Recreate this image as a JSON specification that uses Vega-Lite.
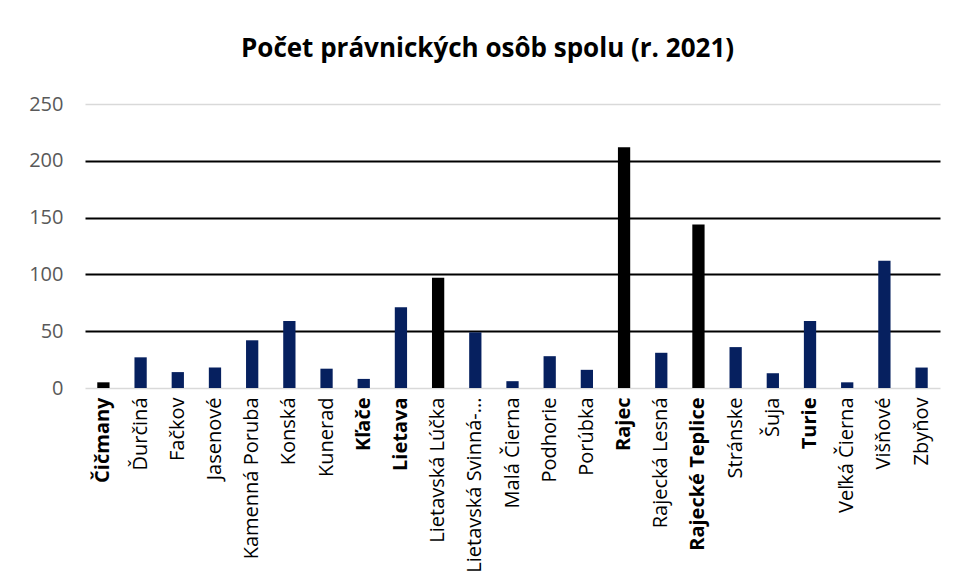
{
  "$schema": "https://vega.github.io/schema/vega-lite/v6.json",
  "autosize": {"type": "none"},
  "padding": {"left": 85, "top": 104, "right": 15, "bottom": 193},
  "width": 855,
  "height": 284,
  "background": "white",
  "title": {
    "text": "Počet právnických osôb spolu (r. 2021)",
    "font": "Open Sans",
    "fontSize": 26,
    "fontWeight": "bold",
    "color": "black",
    "anchor": "middle",
    "dx": -25,
    "offset": 32
  },
  "data": {
    "values": [
      {"obec": "Čičmany", "pocet": 5},
      {"obec": "Ďurčiná", "pocet": 27},
      {"obec": "Fačkov", "pocet": 14},
      {"obec": "Jasenové", "pocet": 18},
      {"obec": "Kamenná Poruba", "pocet": 42},
      {"obec": "Konská", "pocet": 59},
      {"obec": "Kunerad", "pocet": 17},
      {"obec": "Kľače", "pocet": 8},
      {"obec": "Lietava", "pocet": 71},
      {"obec": "Lietavská Lúčka", "pocet": 97},
      {"obec": "Lietavská Svinná-Babkov", "pocet": 49},
      {"obec": "Malá Čierna", "pocet": 6},
      {"obec": "Podhorie", "pocet": 28},
      {"obec": "Porúbka", "pocet": 16},
      {"obec": "Rajec", "pocet": 212},
      {"obec": "Rajecká Lesná", "pocet": 31},
      {"obec": "Rajecké Teplice", "pocet": 144},
      {"obec": "Stránske", "pocet": 36},
      {"obec": "Šuja", "pocet": 13},
      {"obec": "Turie", "pocet": 59},
      {"obec": "Veľká Čierna", "pocet": 5},
      {"obec": "Višňové", "pocet": 112},
      {"obec": "Zbyňov", "pocet": 18}
    ]
  },
  "mark": {"type": "bar"},
  "encoding": {
    "x": {
      "field": "obec",
      "type": "nominal",
      "sort": null,
      "scale": {"paddingInner": 0.67, "paddingOuter": 0.33},
      "axis": {
        "title": null,
        "labelAngle": -90,
        "labelAlign": "right",
        "labelBaseline": "middle",
        "labelFont": "Open Sans",
        "labelFontSize": 20,
        "labelColor": "black",
        "labelPadding": 9,
        "labelLimit": 300,
        "labelFontWeight": {"condition": {"test": "indexof(['Čičmany', 'Kľače', 'Lietava', 'Rajec', 'Rajecké Teplice', 'Turie'], datum.value) >= 0", "value": "bold"}, "value": "normal"},
        "labelExpr": "datum.value == 'Lietavská Svinná-Babkov' ? 'Lietavská Svinná-...' : datum.value",
        "ticks": false,
        "domain": false
      }
    },
    "y": {
      "field": "pocet",
      "type": "quantitative",
      "scale": {"domain": [0, 250]},
      "axis": {
        "title": null,
        "values": [0, 50, 100, 150, 200, 250],
        "labelFont": "Open Sans",
        "labelFontSize": 20,
        "labelColor": "#595959",
        "labelPadding": 22,
        "ticks": false,
        "domain": false,
        "grid": true,
        "gridColor": {"condition": {"test": "datum.value > 0 && datum.value < 250", "value": "black"}, "value": "#d9d9d9"},
        "gridWidth": {"condition": {"test": "datum.value > 0 && datum.value < 250", "value": 2}, "value": 1.5}
      }
    },
    "color": {
      "condition": {
        "test": "indexof(['Čičmany', 'Lietavská Lúčka', 'Rajec', 'Rajecké Teplice'], datum.obec) >= 0",
        "value": "black"
      },
      "value": "#06205f"
    }
  },
  "config": {"view": {"stroke": null}}
}
